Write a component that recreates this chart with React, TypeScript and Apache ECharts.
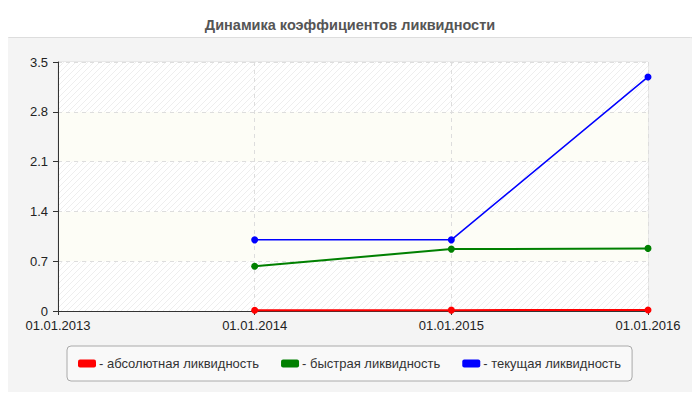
import { useEffect, useRef } from 'react';
import * as echarts from 'echarts';

const dates = ['01.01.2013', '01.01.2014', '01.01.2015', '01.01.2016'];
const absoluteLiq = [null, 0.01, 0.012, 0.014];
const quickLiq = [null, 0.63, 0.87, 0.88];
const currentLiq = [null, 1.0, 1.0, 3.29];
const seriesNames = ['абсолютная ликвидность', 'быстрая ликвидность', 'текущая ликвидность'];
const seriesColors = ['#ff0000', '#008000', '#0000ff'];

function makeHatch(): HTMLCanvasElement {
  const c = document.createElement('canvas');
  c.width = 6;
  c.height = 6;
  const ctx = c.getContext('2d')!;
  ctx.fillStyle = '#ffffff';
  ctx.fillRect(0, 0, 6, 6);
  ctx.strokeStyle = '#eeeeee';
  ctx.lineWidth = 1;
  ctx.beginPath();
  ctx.moveTo(-1, 7);
  ctx.lineTo(7, -1);
  ctx.moveTo(-4, 4);
  ctx.lineTo(4, -4);
  ctx.moveTo(2, 10);
  ctx.lineTo(10, 2);
  ctx.stroke();
  return c;
}

function buildOption(): echarts.EChartsOption {
  const font = 'Arial, "Liberation Sans", sans-serif';
  const hatch = { image: makeHatch(), repeat: 'repeat' } as any;
  const allData = [absoluteLiq, quickLiq, currentLiq];

  return {
    animation: false,
    textStyle: { fontFamily: font },
    title: {
      text: 'Динамика коэффициентов ликвидности',
      left: 'center',
      top: 12,
      textStyle: { fontSize: 14.5, fontWeight: 'bold', color: '#555555', fontFamily: font }
    },
    graphic: [
      {
        type: 'rect',
        z: -10,
        silent: true,
        shape: { x: 2.5, y: 37.5, width: 694, height: 360, r: 6 },
        style: { fill: '#f4f4f4', stroke: '#dddddd', lineWidth: 1 }
      }
    ],
    grid: {
      left: 58,
      right: 52,
      top: 62,
      bottom: 89,
      show: true,
      backgroundColor: '#ffffff',
      borderColor: '#dddddd',
      borderWidth: 1
    },
    legend: {
      left: 67,
      top: 346,
      padding: [11, 11, 11, 11],
      backgroundColor: '#f9f9f9',
      borderColor: '#aaaaaa',
      borderWidth: 1,
      borderRadius: 4,
      itemWidth: 18,
      itemHeight: 8,
      itemGap: 22,
      icon: 'roundRect',
      formatter: '- {name}',
      textStyle: { fontSize: 13, color: '#333333', padding: [0, 0, 0, -2] },
      data: seriesNames
    },
    xAxis: {
      type: 'category',
      data: dates,
      boundaryGap: false,
      axisLine: { lineStyle: { color: '#333333', width: 1 } },
      axisTick: { show: true, length: 4, lineStyle: { color: '#333333' } },
      axisLabel: { color: '#222222', fontSize: 13, margin: 8 },
      splitLine: { show: true, lineStyle: { color: '#dddddd', type: [4, 4] } }
    },
    yAxis: {
      type: 'value',
      min: 0,
      max: 3.5,
      interval: 0.7,
      axisLine: { show: true, lineStyle: { color: '#333333', width: 1 } },
      axisTick: { show: true, length: 5, lineStyle: { color: '#333333' } },
      axisLabel: {
        color: '#222222',
        fontSize: 13,
        margin: 10,
        formatter: (v: number) => String(Number(v.toFixed(1)))
      },
      splitLine: { show: true, lineStyle: { color: '#dddddd', type: [4, 4] } },
      splitArea: { show: true, areaStyle: { color: [hatch, '#fdfdf6'] } }
    },
    series: seriesNames.map((name, i) => ({
      name,
      type: 'line',
      data: allData[i],
      symbol: 'circle',
      symbolSize: 7,
      showSymbol: true,
      color: seriesColors[i],
      lineStyle: { color: seriesColors[i], width: i === 2 ? 1.5 : 2 },
      itemStyle: { color: seriesColors[i] },
      z: 3 + i
    }))
  };
}

export default function App() {
  const ref = useRef<HTMLDivElement | null>(null);

  useEffect(() => {
    if (!ref.current) return;
    const chart = echarts.init(ref.current, undefined, { renderer: 'svg' });
    chart.setOption(buildOption());
    return () => chart.dispose();
  }, []);

  return <div ref={ref} style={{ width: 700, height: 400, margin: -8 }} />;
}
